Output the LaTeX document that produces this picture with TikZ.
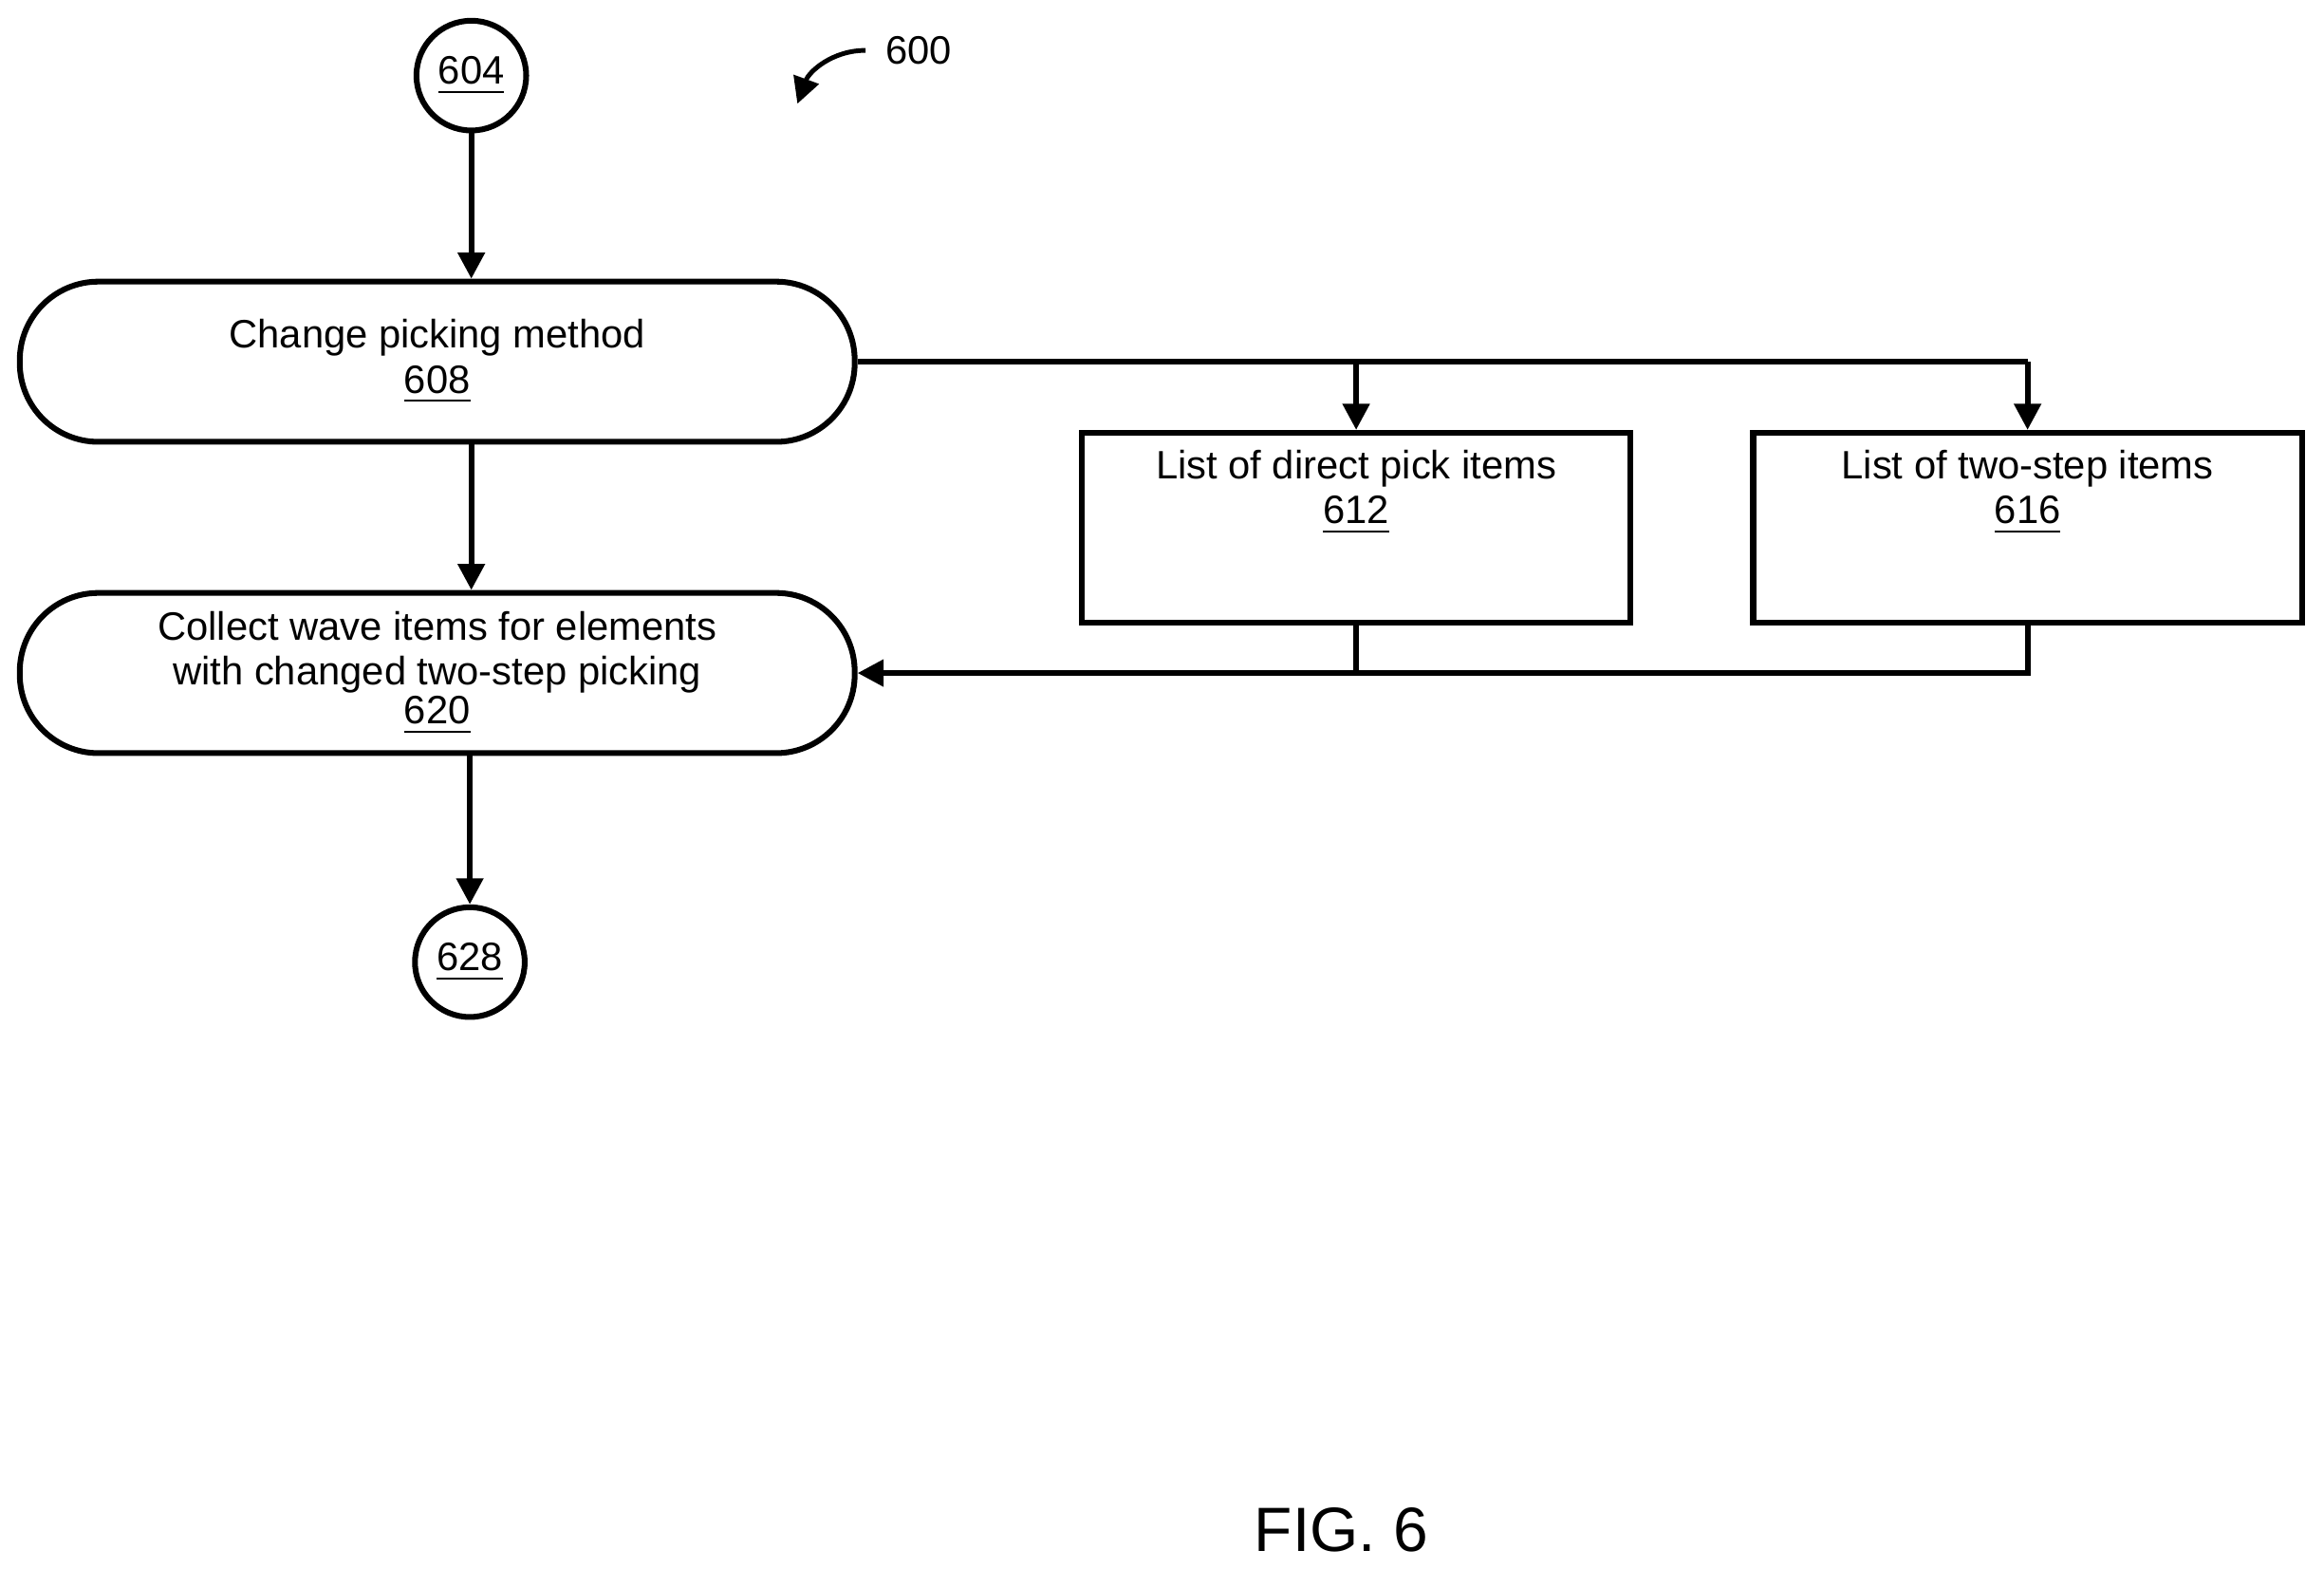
\documentclass[tikz,border=0pt]{standalone}
\usepackage{fontspec}
\setmainfont{Liberation Sans}
\usetikzlibrary{arrows.meta}
\begin{document}
\begin{tikzpicture}[x=0.01cm,y=-0.01cm,>={Triangle[length=5pt,width=5pt]},
  line width=1.1pt,font=\fontsize{7.6}{8.6}\selectfont,
  term/.style={circle,draw,minimum size=0.74cm,inner sep=0pt},
  action/.style={draw,rounded corners=0.53cm,minimum width=5.63cm,minimum height=1.08cm,align=center},
  list/.style={draw,minimum width=3.7cm,minimum height=1.24cm,align=center,anchor=north,text depth=0.55cm}]
  \useasboundingbox (0,0) rectangle (1568,1058);

  \node[term] (c604) at (318,51) {\underline{604}};
  \node[action] (change) at (295,244) {Change picking method\\\underline{608}};
  \node[action] (collect) at (295,454) {Collect wave items for elements\\with changed two-step picking\\[-1pt]\underline{620}};
  \node[term] (c628) at (317,649) {\underline{628}};
  \node[list] (direct) at (915,290) {List of direct pick items\\\underline{612}};
  \node[list] (twostep) at (1368,290) {List of two-step items\\\underline{616}};
  \coordinate (join) at (1368,454);

  \draw[->] (c604) -- (c604 |- change.north);
  \draw[->] (change.south -| c604) -- (c604 |- collect.north);
  \draw[->] (collect.south -| c628) -- (c628);
  \draw (change.east) -- (twostep.north |- change.east);
  \draw[->] (direct.north |- change.east) -- (direct.north);
  \draw[->] (twostep.north |- change.east) -- (twostep.north);
  \draw (direct.south) -- (direct.south |- join);
  \draw[->] (twostep.south) -- (join) -- (collect.east);

  \node[anchor=west] (ref) at (584,34) {600};
  \draw[->,line width=0.9pt] (ref.west) to[out=180,in=70] (538,70);
  \node[font=\fontsize{12}{14}\selectfont] (fig) at (905,1032) {FIG. 6};
\end{tikzpicture}
\end{document}
